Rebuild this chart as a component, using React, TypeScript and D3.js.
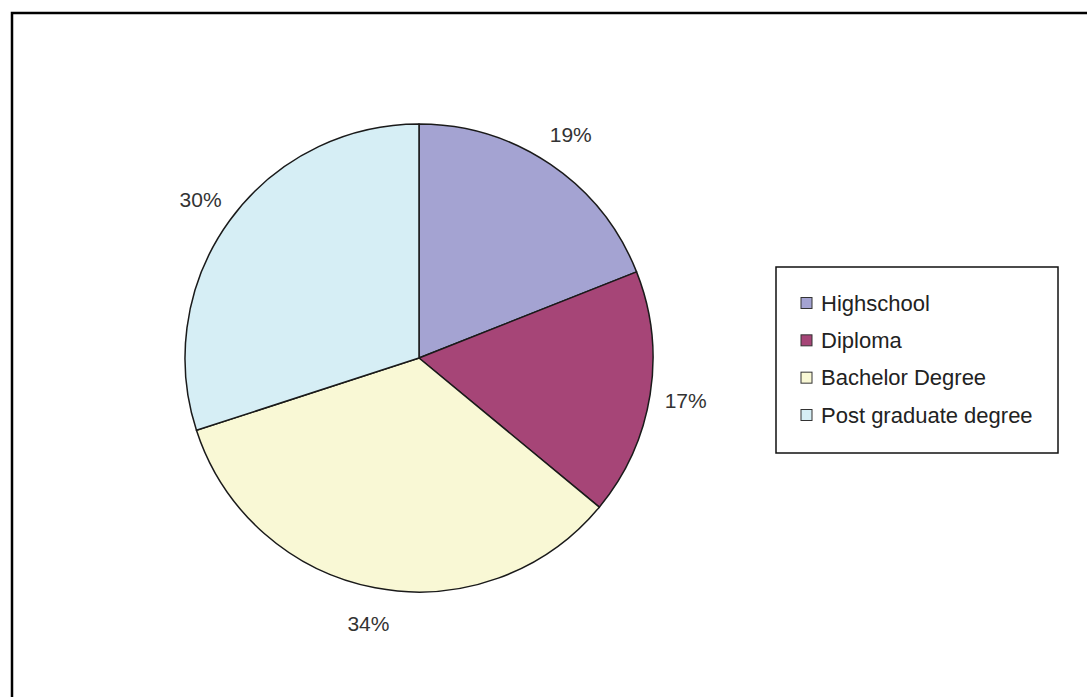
import React from "react";
import * as d3 from "d3";

const categories = ["Highschool", "Diploma", "Bachelor Degree", "Post graduate degree"];
const values = [19, 17, 34, 30];
const colors = ["#A4A3D2", "#A64577", "#F9F8D5", "#D6EEF5"];

const W = 1087;
const H = 697;
const cx = 419;
const cy = 358;
const R = 234;
const labelR = 270;

export default function App() {
  const data = categories.map((c, i) => ({ name: c, value: values[i], color: colors[i] }));
  const pie = d3.pie<any>().value((d) => d.value).sort(null);
  const arcs = pie(data);
  const arcGen = d3.arc<any>().innerRadius(0).outerRadius(R);
  const labelArc = d3.arc<any>().innerRadius(labelR).outerRadius(labelR);
  const total = d3.sum(values);

  const legendX = 776;
  const legendY = 267;
  const legendW = 282;
  const legendH = 186;
  const rowY = d3.scaleLinear().domain([0, 3]).range([303, 415]);

  return (
    <svg
      width={W}
      height={H}
      style={{ position: "absolute", left: 0, top: 0, background: "#fff" }}
      fontFamily="'Liberation Sans', Arial, sans-serif"
    >
      <rect x={0} y={0} width={W} height={H} fill="#fff" />
      <path d={`M12,${H} L12,13 L${W},13`} fill="none" stroke="#000" strokeWidth={2.5} />
      <g transform={`translate(${cx},${cy})`}>
        {arcs.map((a, i) => (
          <path key={i} d={arcGen(a) as string} fill={a.data.color} stroke="#1a1a1a" strokeWidth={1.5} strokeLinejoin="round" />
        ))}
        {arcs.map((a, i) => {
          const [x, y] = labelArc.centroid(a);
          return (
            <text key={"l" + i} x={x} y={y} textAnchor="middle" dominantBaseline="central" fontSize={21} fill="#333">
              {Math.round((a.data.value / total) * 100)}%
            </text>
          );
        })}
      </g>
      <rect x={legendX} y={legendY} width={legendW} height={legendH} fill="#fff" stroke="#111" strokeWidth={1.5} />
      {data.map((d, i) => (
        <g key={"lg" + i}>
          <rect x={801} y={rowY(i) - 5.5} width={11} height={11} fill={d.color} stroke="#333" strokeWidth={1} />
          <text x={821} y={rowY(i)} dominantBaseline="central" fontSize={22} fill="#222">
            {d.name}
          </text>
        </g>
      ))}
    </svg>
  );
}
